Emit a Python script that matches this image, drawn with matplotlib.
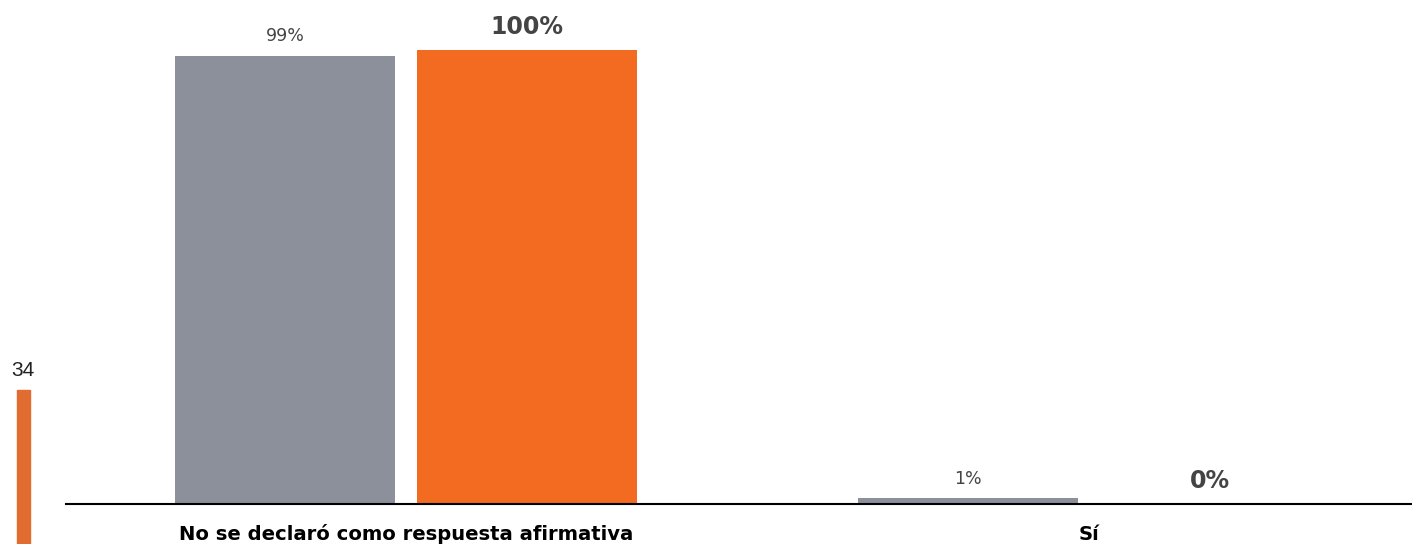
import matplotlib.pyplot as plt
import numpy as np

# data
categories = ["No se declaró como respuesta afirmativa", "Sí"]
series_a = [98.7, 1.3]     # gray series
series_b = [100.0, 0.0]    # orange series
labels_a = ["99%", "1%"]
labels_b = ["100%", "0%"]

gray = "#8C909B"
orange = "#F26B21"
text_col = "#444444"

W, H = 1412, 544
fig = plt.figure(figsize=(W / 100, H / 100), dpi=100)
ax = fig.add_axes([66 / W, 40 / H, 1 - 66 / W, 504 / H])

x = np.arange(len(categories))
width = 0.322
off = 0.177
bars_a = ax.bar(x - off, series_a, width, color=gray)
bars_b = ax.bar(x + off, series_b, width, color=orange)

for b, lab in zip(bars_a, labels_a):
    ax.annotate(lab, (b.get_x() + b.get_width() / 2, b.get_height()),
                xytext=(0, 10.5), textcoords="offset points", ha="center", va="baseline",
                fontsize=12.5, color=text_col, family="DejaVu Sans")
for b, lab in zip(bars_b, labels_b):
    ax.annotate(lab, (b.get_x() + b.get_width() / 2, b.get_height()),
                xytext=(0, 11.5), textcoords="offset points", ha="center", va="baseline",
                fontsize=17, fontweight="bold", color=text_col, family="DejaVu Sans")

ax.set_xlim(-0.498, 1.473)
ax.set_ylim(0, 100 * 504 / 454)
for s in ["top", "right", "left"]:
    ax.spines[s].set_visible(False)
ax.spines["bottom"].set_linewidth(1.5)
ax.spines["bottom"].set_color("black")
ax.set_yticks([])
ax.set_xticks(x)
ax.set_xticklabels([])
ax.tick_params(axis="x", length=0)

# category labels below the axis line
for xi, cat in zip(x, categories):
    ax.annotate(cat, (xi, 0), xycoords=("data", "axes fraction"),
                xytext=(0, -26), textcoords="offset points", ha="center", va="baseline",
                fontsize=14.1, fontweight="bold", color="black", family="DejaVu Sans")

# stray page element at the left edge
fig.text(23 / W, 1 - 376 / H, "34", ha="center", va="baseline", fontsize=15,
         color="#222222", family="Liberation Sans")
fig.patches.append(plt.Rectangle((17 / W, 0), 13 / W, (544 - 390) / H,
                                 transform=fig.transFigure, color="#E06C32"))

fig.savefig("out.png", dpi=100)
